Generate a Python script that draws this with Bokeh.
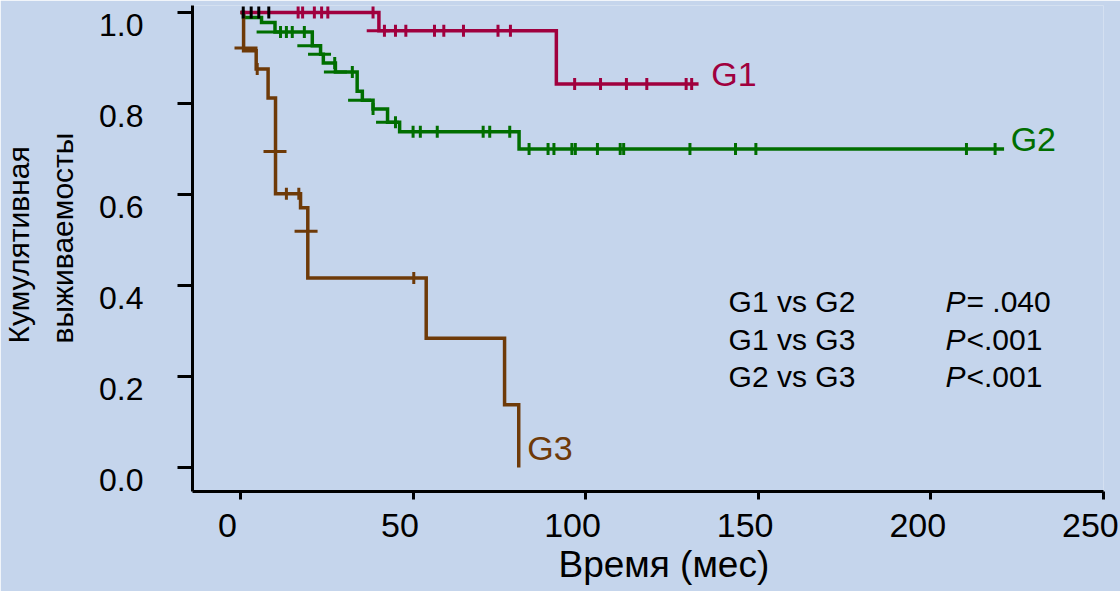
import math
import numpy as np
from bokeh.plotting import figure
from bokeh.models import (Range1d, LinearAxis, FixedTicker, PrintfTickFormatter,
                          Title, CustomLabelingPolicy)
from bokeh.core.properties import value
from bokeh.embed import file_html
from bokeh.resources import INLINE

# ---------------- data ----------------
x_ticks = [0, 50, 100, 150, 200, 250]
y_ticks = [0.0, 0.2, 0.4, 0.6, 0.8, 1.0]

g1_time = [0, 40.1, 91.5, 132.7]
g1_surv = [1.0, 0.960, 0.843, 0.843]
g1_censor = [16.7, 18.0, 21.4, 23.5, 25.3, 38.4, 41.7, 44.9, 47.9, 56.2, 58.9,
             64.6, 74.6, 78.2, 96.8, 104.3, 111.8, 117.7, 129.1, 130.7]
g1_cross_t = [39.9]
g1_cross_s = [0.960]

g2_time = [0, 0.9, 6.1, 10.0, 20.8, 23.2, 24.0, 27.5, 33.8, 35.3, 38.4, 42.6,
           46.1, 80.7, 221.2]
g2_surv = [1.0, 0.989, 0.978, 0.957, 0.927, 0.908, 0.889, 0.869, 0.827, 0.807,
           0.788, 0.759, 0.738, 0.700, 0.700]
g2_censor = [11.6, 13.3, 15.0, 18.5, 27.3, 32.4, 38.4, 44.9, 50.0, 52.1, 57.0,
             70.3, 72.2, 78.0, 83.6, 89.1, 90.8, 96.0, 97.0, 103.4, 110.0,
             111.0, 130.2, 143.4, 149.3, 210.3, 218.6]
g2_cross_t = [8.0, 19.8, 22.9, 27.5, 34.5, 42.6]
g2_cross_s = [0.957, 0.927, 0.908, 0.869, 0.807, 0.759]

g3_time = [0, 0.9, 4.55, 8.0, 10.15, 17.4, 19.5, 53.8, 76.5, 80.6]
g3_surv = [1.0, 0.916, 0.876, 0.812, 0.6015, 0.571, 0.4165, 0.284, 0.138, 0.0]
g3_censor = [4.85, 13.3, 16.9, 50.2]
g3_cross_t = [1.6, 10.0, 19.0]
g3_cross_s = [0.922, 0.6945, 0.519]

start_censor_t = [0.8, 3.1, 5.3, 8.2]
start_censor_s = [1.0, 1.0, 1.0, 1.0]

group_names = ["G1", "G2", "G3"]
group_colors = ["#A0003E", "#006E00", "#6E3A08"]

comparisons = ["G1 vs G2", "G1 vs G3", "G2 vs G3"]
p_sign = ["= .040", "<.001", "<.001"]

x_title = "Время (мес)"
y_title_lines = ["Кумулятивная", "выживаемосты"]

FONT = "Liberation Sans"
BG = "#C5D5EC"


def level_at(times, surv, t):
    idx = np.searchsorted(np.asarray(times), np.asarray(t), side="right") - 1
    return list(np.asarray(surv)[idx])


# ---------------- figure ----------------
XR = (-13.9, 250.0)
YR = (-0.0527, 1.0154)
p = figure(width=1120, height=591, output_backend="svg", toolbar_location=None,
           title=None, x_axis_location=None, y_axis_location=None,
           x_range=Range1d(*XR), y_range=Range1d(*YR),
           min_border_left=192, min_border_right=17, min_border_top=5,
           min_border_bottom=100)
p.background_fill_color = BG
p.border_fill_color = BG
p.outline_line_color = None
p.xgrid.visible = False
p.ygrid.visible = False

# shifted ranges only used to place the tick labels as in the reference
p.extra_x_ranges = {"xlab": Range1d(XR[0] + 3.8, XR[1] + 3.8)}
p.extra_y_ranges = {"ylab": Range1d(YR[0] + 0.0264, YR[1] + 0.0264)}

hide_all = CustomLabelingPolicy(code="for (const i of Array.from(indices)) indices.unset(i)")

# main axes: lines and ticks
xa = LinearAxis(ticker=FixedTicker(ticks=x_ticks), axis_line_width=3,
                axis_line_color="black", major_tick_line_width=3,
                major_tick_line_color="black", major_tick_out=8, major_tick_in=0,
                minor_tick_out=0, minor_tick_in=0, major_label_policy=hide_all,
                major_label_text_font_size="1px", major_label_standoff=0)
p.add_layout(xa, "below")
xl = LinearAxis(x_range_name="xlab", ticker=FixedTicker(ticks=x_ticks),
                axis_line_color=None, major_tick_out=0, major_tick_in=0,
                minor_tick_out=0, minor_tick_in=0, major_tick_line_color=None,
                major_label_standoff=10, major_label_text_font=FONT,
                major_label_text_font_size="34px", major_label_text_color="black")
p.add_layout(xl, "below")

ya = LinearAxis(ticker=FixedTicker(ticks=y_ticks), axis_line_width=3,
                axis_line_color="black", major_tick_line_width=3,
                major_tick_line_color="black", major_tick_out=15, major_tick_in=0,
                minor_tick_out=0, minor_tick_in=0, major_label_policy=hide_all,
                major_label_text_font_size="1px", major_label_standoff=0)
p.add_layout(ya, "left")
yl = LinearAxis(y_range_name="ylab", ticker=FixedTicker(ticks=y_ticks),
                formatter=PrintfTickFormatter(format="%.1f"),
                axis_line_color=None, major_tick_out=0, major_tick_in=0,
                minor_tick_out=0, minor_tick_in=0, major_tick_line_color=None,
                major_label_standoff=30, major_label_text_font=FONT,
                major_label_text_font_size="32px", major_label_text_color="black")
p.add_layout(yl, "left")

# axis titles
p.add_layout(Title(text=x_title, align="left", offset=366, standoff=5,
                   text_font=FONT, text_font_size="37px",
                   text_font_style="normal", text_color="black"), "below")
p.add_layout(Title(text=y_title_lines[1], align="left", offset=148,
                   standoff=35, text_font=FONT, text_font_size="30px",
                   text_font_style="normal", text_color="black"), "left")
p.add_layout(Title(text=y_title_lines[0], align="left", offset=148,
                   standoff=-17, text_font=FONT, text_font_size="30px",
                   text_font_style="normal", text_color="black"), "left")

# ---------------- curves ----------------
curves = [
    (g2_time, g2_surv, g2_censor, g2_cross_t, g2_cross_s, group_colors[1]),
    (g3_time, g3_surv, g3_censor, g3_cross_t, g3_cross_s, group_colors[2]),
    (g1_time, g1_surv, g1_censor, g1_cross_t, g1_cross_s, group_colors[0]),
]
for times, surv, cens, ct, cs, col in curves:
    p.step(x=times, y=surv, mode="after", line_color=col, line_width=3.5,
           line_join="miter")
    p.scatter(x=cens, y=level_at(times, surv, cens), marker="dash", size=12,
              angle=math.pi / 2, line_color=col, line_width=3)
    p.scatter(x=ct, y=cs, marker="dash", size=23, line_color=col, line_width=3)

p.scatter(x=start_censor_t, y=start_censor_s, marker="dash", size=12,
          angle=math.pi / 2, line_color="black", line_width=3)

# group labels
p.text(x=[136.4, 223.1, 83.1], y=[0.864, 0.721, 0.042], text=group_names,
       text_color=group_colors, text_font=value(FONT), text_font_size="34px",
       text_baseline="alphabetic", text_align="left")

# comparison statistics
rows_y = [0.365, 0.281, 0.201]
p.text(x=[141.4] * 3, y=rows_y, text=comparisons, text_color="black",
       text_font=value(FONT), text_font_size="30px", text_baseline="alphabetic")
p.text(x=[204.2] * 3, y=rows_y, text=["P"] * 3, text_color="black",
       text_font=value(FONT), text_font_size="30px", text_font_style="italic",
       text_baseline="alphabetic")
p.text(x=[210.3] * 3, y=rows_y, text=p_sign, text_color="black",
       text_font=value(FONT), text_font_size="30px", text_baseline="alphabetic")

open("out.html", "w").write(file_html(p, INLINE))
